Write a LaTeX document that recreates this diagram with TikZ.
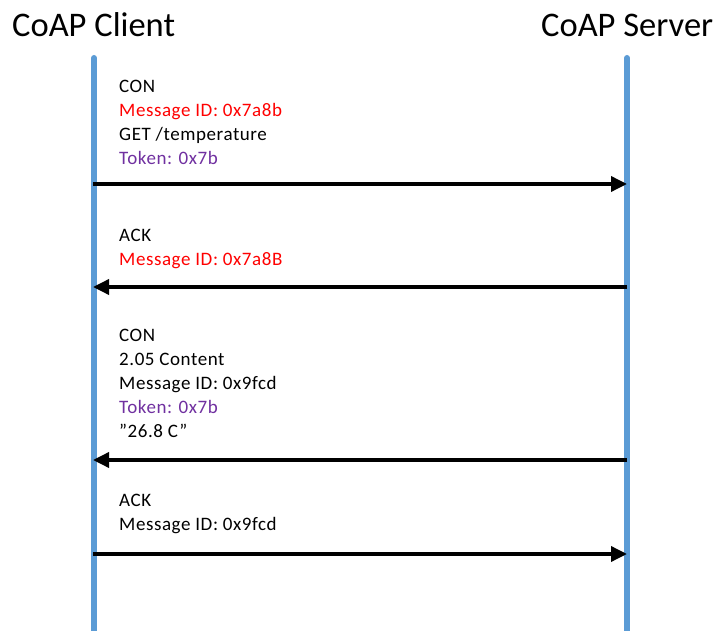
\documentclass[tikz,border=0pt]{standalone}
\usepackage{fontspec}
\setmainfont{Carlito}
\newfontfamily\msgfont[LetterSpace=3.0]{Carlito}
\usetikzlibrary{arrows.meta}
\definecolor{lifeblue}{HTML}{5B9BD5}
\definecolor{idred}{HTML}{FF0000}
\definecolor{tokpurple}{HTML}{7030A0}
\tikzset{
  x=1pt, y=-1pt,
  lifeline/.style={draw=lifeblue, line width=6pt, line cap=round},
  msgarrow/.style={draw=black, line width=3.5pt, -{Triangle[length=16pt,width=15pt]}},
  party/.style={inner sep=0pt, anchor=base west, font=\fontsize{34.5}{40}\selectfont},
  msgtext/.style={inner sep=0pt, anchor=base west, font=\msgfont\fontsize{19}{24}\selectfont}
}
\begin{document}
\begin{tikzpicture}
  \useasboundingbox (0,0) rectangle (716,631);

  % participants
  \node[party] (client) at (12,37) {CoAP Client};
  \node[party] (server) at (541,37) {CoAP Server};

  % lifelines
  \coordinate (ctop) at (94,58);
  \coordinate (cbot) at (94,650);
  \coordinate (stop) at (627,58);
  \coordinate (sbot) at (627,650);
  \draw[lifeline] (ctop) -- (cbot);
  \draw[lifeline] (stop) -- (sbot);

  % message end points
  \coordinate (c1) at (93,184);  \coordinate (s1) at (627,184);
  \coordinate (c2) at (93,287);  \coordinate (s2) at (627,287);
  \coordinate (c3) at (93,460);  \coordinate (s3) at (627,460);
  \coordinate (c4) at (93,554);  \coordinate (s4) at (627,554);

  % confirmable GET request
  \node[msgtext] (m1) at (119,93) {\begin{tabular}[t]{@{}l@{}}
    CON\\
    \textcolor{idred}{Message ID: 0x7a8b}\\
    GET /temperature\\
    \textcolor{tokpurple}{Token: 0x7b}
  \end{tabular}};
  \draw[msgarrow] (c1) -- (s1);

  % empty acknowledgement
  \node[msgtext] (m2) at (119,242) {\begin{tabular}[t]{@{}l@{}}
    ACK\\
    \textcolor{idred}{Message ID: 0x7a8B}
  \end{tabular}};
  \draw[msgarrow] (s2) -- (c2);

  % separate confirmable response
  \node[msgtext] (m3) at (119,342) {\begin{tabular}[t]{@{}l@{}}
    CON\\
    2.05 Content\\
    Message ID: 0x9fcd\\
    \textcolor{tokpurple}{Token: 0x7b}\\
    ”26.8 C”
  \end{tabular}};
  \draw[msgarrow] (s3) -- (c3);

  % acknowledgement of the response
  \node[msgtext] (m4) at (119,507) {\begin{tabular}[t]{@{}l@{}}
    ACK\\
    Message ID: 0x9fcd
  \end{tabular}};
  \draw[msgarrow] (c4) -- (s4);
\end{tikzpicture}
\end{document}
